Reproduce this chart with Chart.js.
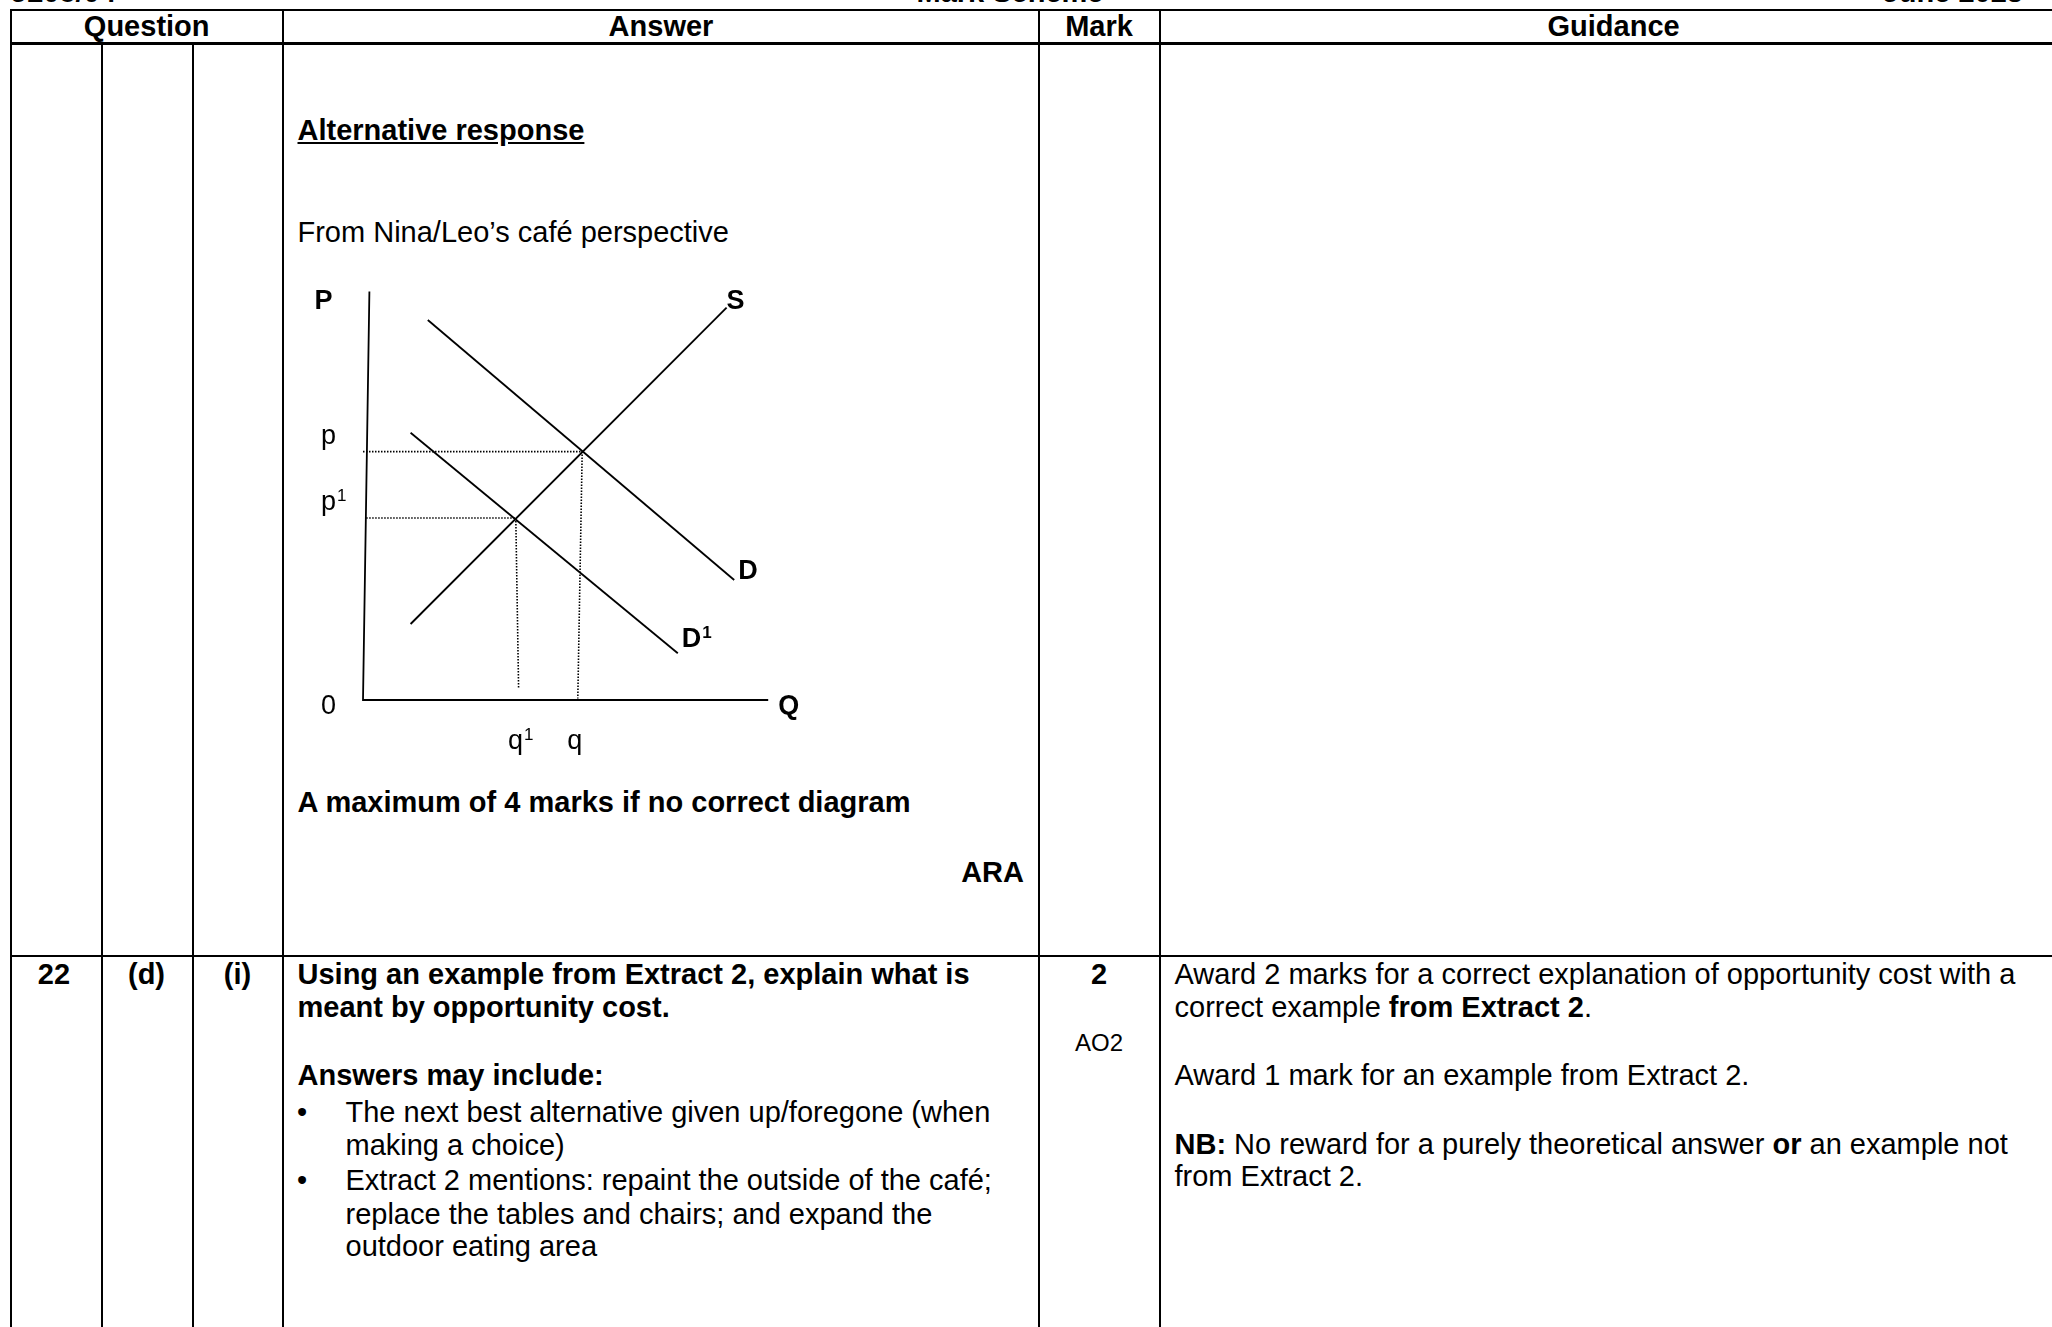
<!DOCTYPE html>
<html>
<head>
<meta charset="utf-8">
<script src="https://cdn.jsdelivr.net/npm/chart.js@4.4.0/dist/chart.umd.min.js"></script>
<style>
  body { margin: 0; background: #fff; width: 2052px; height: 1327px; overflow: hidden; position: relative;
         font-family: "Liberation Sans", Arial, sans-serif; color: #000; }
  .t { position: absolute; white-space: nowrap; line-height: 1; }
  .ln { position: absolute; background: #000; }
  #diagram { position: absolute; left: 300px; top: 270px; }
</style>
</head>
<body>
<canvas id="diagram" width="520" height="500"></canvas>
<script>
// Diagram data (quantity / price units, origin at 0,0)
const curveNames = ['S', 'D', 'D¹'];
const curveQ = [[1.19, 9.09], [1.62, 9.28], [1.19, 7.87]];
const curveP = [[1.9, 9.81], [9.5, 3.0], [6.68, 1.17]];

const axisQ = [0.16, 0, 10.13];
const axisP = [10.21, 0, 0];
const axisNames = ['P', 'Q', '0'];

const priceLevels = [6.21, 4.55];
const priceTicks = ['p', 'p¹'];
const guideStarts = [0, 0.08];

const quantityLevels = [5.48, 3.82];
const quantityTicks = ['q', 'q¹'];
const quantityFeet = [5.37, 3.89];
const footHeights = [0.04, 0.29];

// Table text
const headers = ['Question', 'Answer', 'Mark', 'Guidance'];
const questionParts = ['22', '(d)', '(i)'];
const answerLines = [
    'Using an example from Extract 2, explain what is',
    'meant by opportunity cost.',
    'Answers may include:'
];
const bulletLines = [
    ['The next best alternative given up/foregone (when', 'making a choice)'],
    ['Extract 2 mentions: repaint the outside of the café;', 'replace the tables and chairs; and expand the', 'outdoor eating area']
];
const guidanceLines = [
    'Award 2 marks for a correct explanation of opportunity cost with a',
    'correct example <b>from Extract 2</b>.',
    'Award 1 mark for an example from Extract 2.',
    '<b>NB:</b> No reward for a purely theoretical answer <b>or</b> an example not',
    'from Extract 2.'
];

// Place text by baseline
function put(html, x, base, size, bold, align) {
    const d = document.createElement('div');
    d.className = 't';
    d.innerHTML = html;
    d.style.fontSize = size + 'px';
    d.style.fontWeight = bold ? 'bold' : 'normal';
    d.style.left = x + 'px';
    d.style.top = (base - 0.8465 * size) + 'px';
    if (align === 'center') d.style.transform = 'translateX(-50%)';
    if (align === 'right') d.style.transform = 'translateX(-100%)';
    document.body.appendChild(d);
    return d;
}

function line(x, y, w, h) {
    const d = document.createElement('div');
    d.className = 'ln';
    d.style.left = x + 'px';
    d.style.top = y + 'px';
    d.style.width = w + 'px';
    d.style.height = h + 'px';
    document.body.appendChild(d);
}

// Grid lines
line(10, 9, 2042, 2);
line(10, 42, 2042, 2.5);
line(10, 955, 2042, 2);
[11, 282.5, 1039, 1159.5].forEach(x => line(x - 1, 9, 2, 1318));
[101.5, 192.5].forEach(x => line(x - 1, 43, 2, 1284));

// Cut-off page header
put('J205/04', 11, 3, 29, true);
put('Mark Scheme', 1010, 3, 29, true, 'center');
put('June 2023', 2023, 3, 29, true, 'right');

// Column headers
const headerCenters = [146.7, 661, 1099, 1613.6];
headers.forEach((h, i) => put(h, headerCenters[i], 36.5, 29, true, 'center'));

// Row 1
put('<u>Alternative response</u>', 297.5, 140.5, 29, true);
put('From Nina/Leo’s café perspective', 297.5, 243, 29, false);
put('A maximum of 4 marks if no correct diagram', 297.5, 813, 29, true);
put('ARA', 1024, 882.5, 29, true, 'right');

// Row 2
const partCenters = [54, 146.5, 237.5];
questionParts.forEach((q, i) => put(q, partCenters[i], 985, 29, true, 'center'));
put(answerLines[0], 297.5, 985, 29, true);
put(answerLines[1], 297.5, 1017.5, 29, true);
put(answerLines[2], 297.5, 1086, 29, true);
const bulletBases = [[1122.5, 1155.5], [1191, 1224.5, 1257]];
bulletLines.forEach((b, i) => {
    put('•', 297, bulletBases[i][0], 29, false);
    b.forEach((txt, j) => put(txt, 345.5, bulletBases[i][j], 29, false));
});
put('2', 1099, 985, 29, true, 'center');
put('AO2', 1099, 1051.5, 24, false, 'center');
const guideBases = [985, 1017.5, 1086, 1154.5, 1187];
guidanceLines.forEach((g, i) => put(g, 1174.5, guideBases[i], 29, false));

// Diagram labels drawn on the chart
const labelPlugin = {
    id: 'diagramLabels',
    afterDatasetsDraw(chart) {
        const { ctx, scales: { x, y } } = chart;
        const px = v => x.getPixelForValue(v);
        const py = v => y.getPixelForValue(v);
        const fam = '"Liberation Sans", Arial, sans-serif';

        function label(text, left, base, bold, centerBase) {
            const sup = text.endsWith('¹');
            const main = sup ? text.slice(0, -1) : text;
            ctx.font = (bold ? 'bold ' : '') + '27px ' + fam;
            const w = ctx.measureText(main).width;
            if (centerBase) left -= w / 2;
            ctx.fillText(main, left, base);
            if (sup) {
                ctx.font = (bold ? 'bold ' : '') + '17px ' + fam;
                ctx.fillText('1', left + w + 1, base - 9);
            }
        }

        ctx.save();
        ctx.fillStyle = '#000';
        ctx.textBaseline = 'alphabetic';
        ctx.textAlign = 'left';

        label(curveNames[0], px(curveQ[0][1]), py(curveP[0][1]) + 1, true);
        label(curveNames[1], px(curveQ[1][1]) + 4, py(curveP[1][1]) - 1, true);
        label(curveNames[2], px(curveQ[2][1]) + 4, py(curveP[2][1]) - 6, true);

        label(axisNames[0], px(axisQ[0]) - 55, py(axisP[0]) + 17, true);
        label(axisNames[1], px(axisQ[2]) + 10, py(0) + 14, true);
        label(axisNames[2], px(0) - 42, py(0) + 14, false);

        priceTicks.forEach((t, i) => label(t, px(0) - 42, py(priceLevels[i]) - 8, false));
        quantityTicks.forEach((t, i) => label(t, px(quantityFeet[i]) - 3, py(0) + 49, false, true));
        ctx.restore();
    }
};

const solid = { borderColor: '#000', borderWidth: 1.8, showLine: true, pointRadius: 0, fill: false };
const dotted = { borderColor: '#000', borderWidth: 1.6, borderDash: [1.5, 1.5], showLine: true, pointRadius: 0, fill: false };

const datasets = [];
datasets.push(Object.assign({ data: axisQ.map((q, i) => ({ x: q, y: axisP[i] })) }, solid));
curveQ.forEach((qs, c) => {
    datasets.push(Object.assign({ data: qs.map((q, i) => ({ x: q, y: curveP[c][i] })) }, solid));
});
priceLevels.forEach((p, i) => {
    datasets.push(Object.assign({ data: [{ x: guideStarts[i], y: p }, { x: quantityLevels[i], y: p }] }, dotted));
    datasets.push(Object.assign({ data: [{ x: quantityLevels[i], y: p }, { x: quantityFeet[i], y: footHeights[i] }] }, dotted));
});

new Chart(document.getElementById('diagram'), {
    type: 'scatter',
    data: { datasets },
    options: {
        responsive: false,
        animation: false,
        devicePixelRatio: 1,
        layout: { padding: 0 },
        plugins: { legend: { display: false }, tooltip: { enabled: false } },
        elements: { line: { tension: 0 } },
        scales: {
            x: { type: 'linear', min: -1.575, max: 11.425, display: false },
            y: { type: 'linear', min: -1.75, max: 10.75, display: false }
        }
    },
    plugins: [labelPlugin]
});
</script>
</body>
</html>
